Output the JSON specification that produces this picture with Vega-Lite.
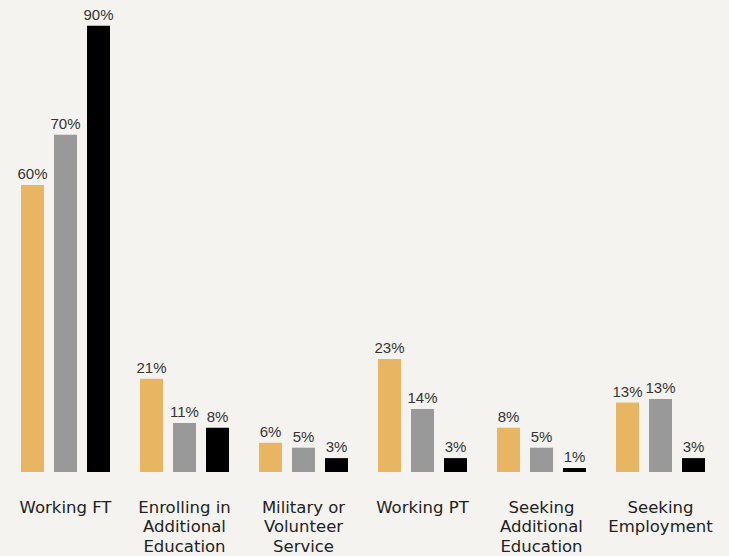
{
  "$schema": "https://vega.github.io/schema/vega-lite/v6.json",
  "autosize": "none",
  "width": 714,
  "height": 472,
  "padding": {"left": 6, "top": 0, "right": 9, "bottom": 84},
  "background": "#f4f3f0",
  "config": {"view": {"stroke": null}, "font": "Liberation Sans"},
  "data": {
    "values": [
      {"category": "Working FT", "series": "A", "value": 57.9, "label": "60%"},
      {"category": "Working FT", "series": "B", "value": 68.0, "label": "70%"},
      {"category": "Working FT", "series": "C", "value": 90.0, "label": "90%"},
      {"category": "Enrolling in\nAdditional\nEducation", "series": "A", "value": 18.8, "label": "21%"},
      {"category": "Enrolling in\nAdditional\nEducation", "series": "B", "value": 9.9, "label": "11%"},
      {"category": "Enrolling in\nAdditional\nEducation", "series": "C", "value": 8.9, "label": "8%"},
      {"category": "Military or\nVolunteer\nService", "series": "A", "value": 5.9, "label": "6%"},
      {"category": "Military or\nVolunteer\nService", "series": "B", "value": 4.9, "label": "5%"},
      {"category": "Military or\nVolunteer\nService", "series": "C", "value": 2.8, "label": "3%"},
      {"category": "Working PT", "series": "A", "value": 22.8, "label": "23%"},
      {"category": "Working PT", "series": "B", "value": 12.7, "label": "14%"},
      {"category": "Working PT", "series": "C", "value": 2.8, "label": "3%"},
      {"category": "Seeking\nAdditional\nEducation", "series": "A", "value": 8.9, "label": "8%"},
      {"category": "Seeking\nAdditional\nEducation", "series": "B", "value": 4.9, "label": "5%"},
      {"category": "Seeking\nAdditional\nEducation", "series": "C", "value": 0.8, "label": "1%"},
      {"category": "Seeking\nEmployment", "series": "A", "value": 14.0, "label": "13%"},
      {"category": "Seeking\nEmployment", "series": "B", "value": 14.7, "label": "13%"},
      {"category": "Seeking\nEmployment", "series": "C", "value": 2.8, "label": "3%"}
    ]
  },
  "encoding": {
    "x": {
      "field": "category",
      "type": "nominal",
      "sort": null,
      "scale": {"paddingInner": 0.252, "paddingOuter": 0.126},
      "axis": {
        "title": null,
        "domain": false,
        "ticks": false,
        "labelAngle": 0,
        "labelFont": "DejaVu Sans",
        "labelFontSize": 16.5,
        "labelColor": "#222222",
        "labelPadding": 27,
        "labelLineHeight": 19.5,
        "labelBaseline": "top",
        "labelExpr": "split(datum.label, '\\n')"
      }
    },
    "xOffset": {
      "field": "series",
      "type": "nominal",
      "scale": {"paddingInner": 0.303, "paddingOuter": 0}
    },
    "y": {
      "field": "value",
      "type": "quantitative",
      "scale": {"domain": [0, 95.2], "nice": false},
      "axis": null
    }
  },
  "layer": [
    {
      "mark": {"type": "bar"},
      "encoding": {
        "color": {
          "field": "series",
          "type": "nominal",
          "scale": {"domain": ["A", "B", "C"], "range": ["#e8b662", "#999999", "#000000"]},
          "legend": null
        }
      }
    },
    {
      "mark": {"type": "text", "baseline": "bottom", "dy": -3, "fontSize": 15, "color": "#333333"},
      "encoding": {"text": {"field": "label"}}
    }
  ]
}
